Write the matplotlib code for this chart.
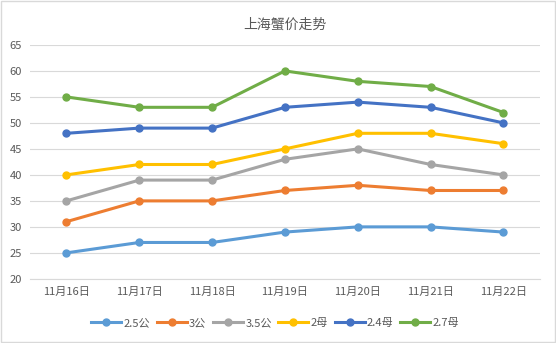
import matplotlib.pyplot as plt
import numpy as np

plt.rcParams['font.family'] = ['Noto Sans CJK SC', 'DejaVu Sans']

dates = ['11月16日', '11月17日', '11月18日', '11月19日', '11月20日', '11月21日', '11月22日']
names = ['2.5公', '3公', '3.5公', '2母', '2.4母', '2.7母']
colors = ['#5B9BD5', '#ED7D31', '#A5A5A5', '#FFC000', '#4472C4', '#70AD47']

gong25 = [25, 27, 27, 29, 30, 30, 29]
gong3 = [31, 35, 35, 37, 38, 37, 37]
gong35 = [35, 39, 39, 43, 45, 42, 40]
mu2 = [40, 42, 42, 45, 48, 48, 46]
mu24 = [48, 49, 49, 53, 54, 53, 50]
mu27 = [55, 53, 53, 60, 58, 57, 52]
series = [gong25, gong3, gong35, mu2, mu24, mu27]

fig = plt.figure(figsize=(5.56, 3.43), dpi=100)
ax = fig.add_axes([0.054, 0.187, 0.917, 0.682])

x = np.arange(len(dates))
for vals, name, c in zip(series, names, colors):
    ax.plot(x, vals, color=c, lw=2.2, marker='o', ms=5, label=name)

ax.set_xlim(-0.5, len(dates) - 0.5)
ax.set_ylim(20, 65)
ax.set_yticks(range(20, 66, 5))
ax.set_xticks(x)
ax.set_xticklabels(dates)
ax.grid(axis='y', color='#D9D9D9', lw=0.8)
ax.set_axisbelow(True)
for s in ['top', 'right', 'left']:
    ax.spines[s].set_visible(False)
ax.spines['bottom'].set_color('#D9D9D9')
ax.tick_params(axis='both', length=0, labelsize=8, colors='#595959', pad=6)

ax.set_title('上海蟹价走势', fontsize=10, color='#595959', pad=12)
fig.legend(loc='lower center', ncol=6, frameon=False, fontsize=8,
           bbox_to_anchor=(0.495, 0.015), handlelength=2.7, columnspacing=0.6,
           handletextpad=0.2, labelcolor='#595959')

fig.patches.append(plt.Rectangle((0.002, 0.003), 0.996, 0.994, transform=fig.transFigure,
                                 fill=False, edgecolor='#D9D9D9', lw=1))
fig.savefig('out.png', dpi=100)
